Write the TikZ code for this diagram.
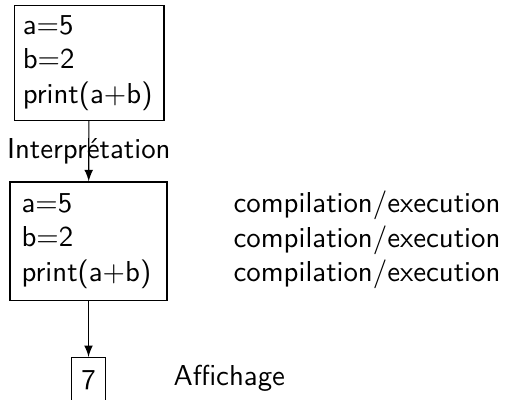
\documentclass[tikz,border=0pt]{standalone}
\usetikzlibrary{arrows}
\tikzset{
    codebox/.style={draw, align=left, text width=46pt, inner xsep=3pt},
    fleche/.style={-latex}
}
\begin{document}
\begin{tikzpicture}[font=\sffamily]
            \useasboundingbox (0, 0) rectangle (6.16, -4.87);
            \node[codebox, minimum height=38.2pt] (src) at (1.086, -0.769) {
                a=5\\ b=2\\ print(a+b)
            };
            \node[codebox, minimum height=41pt, inner xsep=4pt, text width=46.5pt] (interp) at (1.08, -2.94) {
                a=5\\ b=2\\ print(a+b)
            };
            \node[anchor=base west, align=left, inner sep=0pt] (comp) at (2.843, -3.435) {
                compilation/execution\\
                compilation/execution\\
                compilation/execution
            };
            \node[draw, anchor=north, minimum height=16pt] (res) at (1.08, -4.355) {7};
            \node[anchor=base west, inner sep=0pt] (aff) at (2.11, -4.70) {Affichage};
            \draw[fleche] (src) -- node {Interprétation} (interp);
            \draw[fleche] (interp) -- (res);
        \end{tikzpicture}
\end{document}
